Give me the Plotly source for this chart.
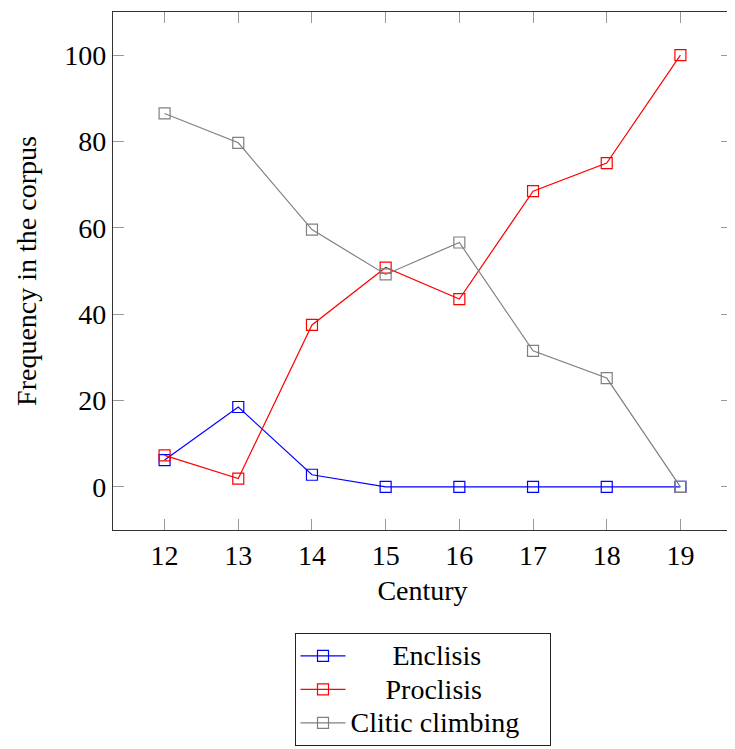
import plotly.graph_objects as go

centuries = [12, 13, 14, 15, 16, 17, 18, 19]
enclisis = [6.2, 18.5, 2.8, 0, 0, 0, 0, 0]
proclisis = [7.3, 1.9, 37.5, 50.8, 43.5, 68.5, 75.0, 100]
clitic_climbing = [86.5, 79.7, 59.6, 49.2, 56.6, 31.5, 25.2, 0]

series_names = ["Enclisis", "Proclisis", "Clitic climbing"]
series_colors = ["#0000ff", "#ff0000", "#808080"]
legend_pad = [6, 5, 0]
x_ticks = [12, 13, 14, 15, 16, 17, 18, 19]
y_ticks = [0, 20, 40, 60, 80, 100]

FONT = "Liberation Serif"

fig = go.Figure()
for name, vals, col, pad in zip(series_names, [enclisis, proclisis, clitic_climbing],
                                series_colors, legend_pad):
    label = "\u00a0" * pad + name + "\u00a0" * (pad + 3)
    fig.add_trace(go.Scatter(
        x=centuries, y=vals, mode="lines+markers",
        name="<span style='font-size:28px'>" + label + "</span>",
        line=dict(color=col, width=1.2),
        marker=dict(symbol="square-open", size=11, color=col, line=dict(width=1.2, color=col)),
    ))

fig.update_layout(
    width=727, height=741,
    margin=dict(l=105, r=3, t=4, b=219),
    paper_bgcolor="white", plot_bgcolor="white",
    font=dict(family=FONT, size=28, color="black"),
    showlegend=True,
    legend=dict(
        x=0.5, xanchor="center", xref="paper",
        y=-0.199, yanchor="top", yref="paper",
        bordercolor="#222", borderwidth=1,
        font=dict(family=FONT, size=23.5, color="black"),
        itemwidth=45, tracegroupgap=0,
        bgcolor="white",
    ),
)
fig.update_xaxes(
    range=[11.3, 19.7], tickvals=x_ticks, ticktext=[str(v) for v in x_ticks],
    ticks="inside", ticklen=11, tickcolor="#999", tickwidth=1,
    showline=True, linecolor="#333", linewidth=1.2, mirror="ticks",
    showgrid=False, zeroline=False, automargin=False,
    title=dict(text="Century", standoff=10, font=dict(size=28)),
    tickfont=dict(size=28),
)
fig.update_yaxes(
    range=[-10, 110], tickvals=y_ticks, ticktext=[str(v) for v in y_ticks],
    ticks="inside", ticklen=11, tickcolor="#999", tickwidth=1,
    showline=True, linecolor="#333", linewidth=1.2, mirror="ticks",
    showgrid=False, zeroline=False, automargin=False,
    title=dict(text="Frequency in the corpus", standoff=19, font=dict(size=28)),
    tickfont=dict(size=28),
)

fig.write_html("out.html")
